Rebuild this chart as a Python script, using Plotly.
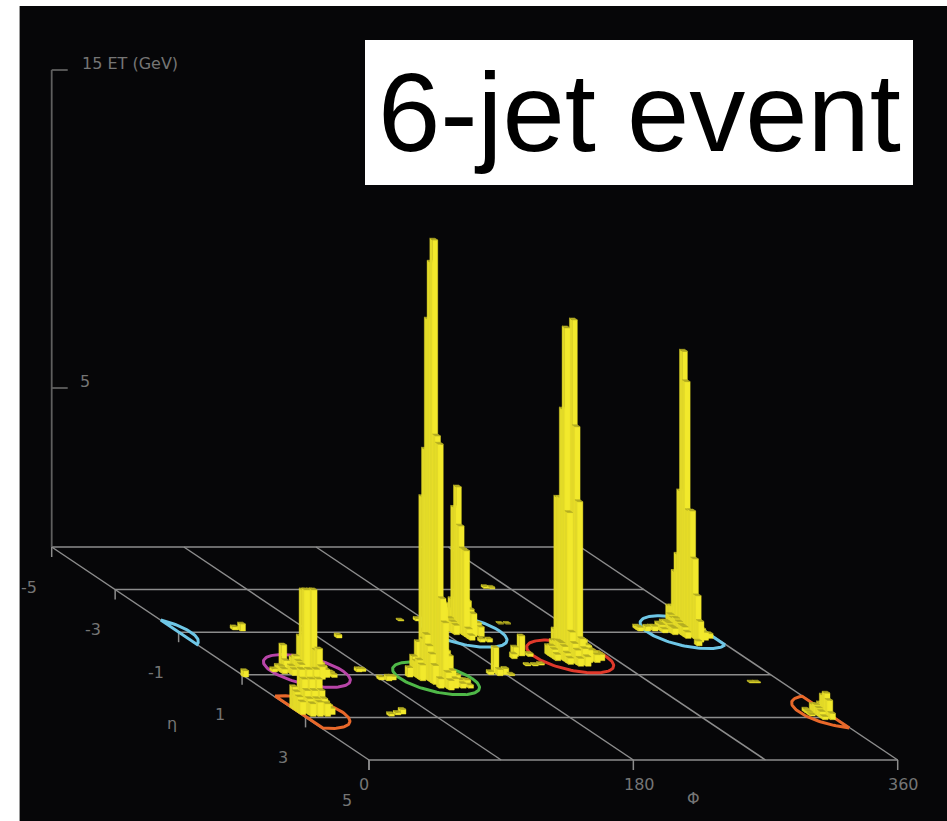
import numpy as np
import plotly.graph_objects as go

# ---- axes of the lego plot
PHI_GRID = [0, 90, 180, 270, 360]
ETA_GRID = [-5, -3, -1, 1, 3, 5]
ET_TICKS = [5, 15]
ET_AXIS_TOP = 15
PHI_LABELS = ["0", "180", "360"]
PHI_LABEL_VALUES = [0, 180, 360]
PHI_LABEL_SHIFT = [-5, 6, 6]
ETA_LABELS = ["-5", "-3", "-1", "1", "3", "5"]
ET_LABELS = ["5", "15 ET (GeV)"]
TITLE = "6-jet event"

# ---- jet cones (centre phi, centre eta, colour)
JET_PHI = [128.4, 195.3, 242.0, 343.8, 48.0, 6.0]
JET_ETA = [1.17, -1.06, 0.14, -1.0, 0.82, 2.75]
JET_COLOR = ["#4fb848", "#6ec6e6", "#e0392b", "#6ec6e6", "#b845a8", "#e8682a"]
CONE_PHI = 24.5
CONE_ETA = 0.77

# ---- calorimeter towers: bins relative to a reference tower of each jet
GREEN_REF = (127.3, 1.15)
GREEN_I = [0,0,0,0,0,0,0,1,1,1,0,0,1,-1,-1,-1,-1,-1,-1,-2,-2,-2,-2,-3,1,1,2,2,2,3,3,3,0,0,-1,1,2,3]
GREEN_J = [0,-1,-2,-3,-4,1,2,0,1,2,3,4,3,-3,-1,0,1,2,3,-2,-1,0,1,-1,-1,4,2,3,4,3,4,2,5,6,5,5,5,5]
GREEN_ET = [13.8,13.05,11.2,7.05,5.5,7.7,7.5,2.4,2.45,1.0,2.7,2.0,0.9,1.0,1.2,1.4,1.1,0.9,0.6,0.6,0.5,0.6,0.5,0.3,3.0,0.5,0.25,0.3,0.2,0.15,0.2,0.1,0.5,0.3,0.3,0.3,0.15,0.1]

BLUE_MID_REF = (192.0, -1.1)
BLUE_MID_I = [0,0,0,0,0,0,0,1,1,1,1,1,2,2,-1,-1,-1,0,0,1,2]
BLUE_MID_J = [0,-1,1,2,3,-2,-3,2,3,1,0,-1,2,3,0,1,2,4,5,6,6]
BLUE_MID_ET = [4.53,3.83,3.36,2.7,2.7,0.9,0.5,0.8,0.72,1.0,1.0,0.9,0.37,0.3,0.4,0.35,0.3,0.3,0.15,0.1,0.1]

RED_REF = (244.6, 0.12)
RED_I = [0,-1,-1,0,0,0,-1,-1,-1,-2,-1,1,1,1,1,1,2,2,2,2,3,3,0,0,-1,-1,-1,-1,-2,-2,-2,-2,-2,-2,-3,-3,-3,-3]
RED_J = [0,0,-1,1,2,3,-2,-3,-4,-2,1,-1,0,1,2,3,0,1,2,3,1,2,4,5,2,3,4,5,-1,0,1,2,3,4,-1,0,1,2]
RED_ET = [10.6,10.35,7.74,7.3,5.0,0.75,4.9,4.85,0.65,0.4,4.6,3.05,0.5,0.6,0.5,0.4,0.35,0.3,0.3,0.25,0.2,0.2,0.5,0.3,0.9,0.6,0.45,0.25,0.45,0.5,0.5,0.45,0.3,0.2,0.3,0.35,0.3,0.2]

BLUE_RIGHT_REF = (345.9, -1.1)
BLUE_RIGHT_I = [0,0,0,0,0,0,0,0,0,0,0,0,1,1,1,2,-1,-1,-1,-1,-1,-1,-1,-2,-2,-2,-2,-2,-3,-3,-3,-4,-4,-5,-6,-6,-1]
BLUE_RIGHT_J = [0,1,-1,2,3,-2,4,5,-3,-4,6,-5,3,4,5,4,-2,-1,0,1,2,3,4,-2,-1,0,1,2,-1,0,1,-1,0,0,-1,0,8]
BLUE_RIGHT_ET = [8.8,7.9,4.35,3.9,3.95,2.3,2.5,1.4,1.7,0.55,0.65,0.5,0.3,0.3,0.25,0.15,0.4,0.35,0.4,0.35,0.3,0.3,0.2,0.2,0.25,0.25,0.2,0.2,0.2,0.2,0.12,0.1,0.15,0.15,0.1,0.12,0.15]

MAGENTA_REF = (45.4, 0.82)
MAGENTA_I = [0,1,0,1,0,1,1,-2,-1,-2,-1,-1,-1,-2,-2,-3,-3,-3,-4,2,2,2,3,3,1,-1]
MAGENTA_J = [0,0,1,1,-1,2,3,-2,-1,-1,0,1,2,1,2,0,1,-1,0,1,2,3,2,3,4,3]
MAGENTA_ET = [2.58,2.58,2.64,2.64,1.07,0.8,0.9,0.73,0.4,0.3,0.5,0.4,0.35,0.25,0.2,0.18,0.15,0.15,0.1,0.35,0.3,0.25,0.12,0.1,0.4,0.2]

ORANGE_REF = (6.4, 2.56)
ORANGE_I = [0,1,2,0,1,2,0,1,2,0,1,2,0,1,2,-1,-1,-1,-1,3,3,3]
ORANGE_J = [0,0,0,1,1,1,2,2,2,3,3,3,4,4,4,0,1,2,3,1,2,3]
ORANGE_ET = [1.25,1.25,1.25,1.0,1.0,1.0,0.7,0.7,0.7,0.5,0.5,0.5,0.4,0.45,0.4,0.7,0.6,0.5,0.4,0.3,0.25,0.2]

ORANGE_WRAP_REF = (356.8, 2.89)
ORANGE_WRAP_I = [0,0,0,-1,-1,-1,-1,-1,-2,-2,-2,0,0]
ORANGE_WRAP_J = [0,-1,1,0,1,2,-1,-2,-1,-2,0,2,-2]
ORANGE_WRAP_ET = [0.72,0.6,0.55,0.25,0.2,0.1,0.3,0.25,0.08,0.1,0.05,0.2,0.3]

# ---- isolated deposits (absolute)
ISO_PHI = [45,41,103.6,0.5,82.8,86,94.2,90,98,65.7,70,60,163,174.6,257.7,254,232.9,228,210,205,202,215,203.9,209,214,175,170,180,175,183,339.2,343]
ISO_ETA = [-1.1,-1.15,-0.77,1.06,0.82,0.8,1.24,1.2,1.2,2.84,2.8,2.9,-1.57,-1.57,-3.08,-3.1,-1.43,-1.43,0.07,0.1,0.2,0.1,0.54,0.54,0.5,0.87,0.95,0.95,1.0,1.0,1.34,1.34]
ISO_ET = [0.22,0.1,0.1,0.2,0.1,0.08,0.15,0.1,0.12,0.08,0.15,0.08,0.03,0.08,0.05,0.06,0.02,0.02,0.63,0.3,0.15,0.1,0.05,0.05,0.05,0.8,0.1,0.2,0.2,0.05,0.03,0.03]

PHI_BIN = 5.0
ETA_BIN = 0.087
PHI_WIDTH = 3.5

YELLOW, SIDE, TOP = "#f2e92c", "#e2d928", "#b4ad22"
BG, GRID, AXIS, LABEL = "#060608", "#8c8c8c", "#5e5e5e", "#757575"


def project(phi, eta, et=0.0):
    """Oblique projection of the lego plot on the picture."""
    sx = 51.7 + 1.4686 * np.asarray(phi, float) + 31.73 * (np.asarray(eta, float) + 5)
    sy = 547.0 + 21.3 * (np.asarray(eta, float) + 5) - 31.8 * np.asarray(et, float)
    return sx, sy


towers = []
for ref, ii, jj, ee in [
    (GREEN_REF, GREEN_I, GREEN_J, GREEN_ET),
    (BLUE_MID_REF, BLUE_MID_I, BLUE_MID_J, BLUE_MID_ET),
    (RED_REF, RED_I, RED_J, RED_ET),
    (BLUE_RIGHT_REF, BLUE_RIGHT_I, BLUE_RIGHT_J, BLUE_RIGHT_ET),
    (MAGENTA_REF, MAGENTA_I, MAGENTA_J, MAGENTA_ET),
    (ORANGE_REF, ORANGE_I, ORANGE_J, ORANGE_ET),
    (ORANGE_WRAP_REF, ORANGE_WRAP_I, ORANGE_WRAP_J, ORANGE_WRAP_ET),
]:
    for i, j, e in zip(ii, jj, ee):
        towers.append((ref[0] + PHI_BIN * i, ref[1] + ETA_BIN * j, e))
towers += list(zip(ISO_PHI, ISO_ETA, ISO_ET))
towers.sort(key=lambda t: (round(t[1], 3), -t[0]))

fig = go.Figure()


def line(xs, ys, color, width):
    fig.add_trace(go.Scatter(x=xs, y=ys, mode="lines", line=dict(color=color, width=width),
                             hoverinfo="skip", showlegend=False))


def poly(pts, fill, edge, width):
    xs = [p[0] for p in pts] + [pts[0][0]]
    ys = [p[1] for p in pts] + [pts[0][1]]
    fig.add_trace(go.Scatter(x=xs, y=ys, mode="lines", fill="toself", fillcolor=fill,
                             line=dict(color=edge, width=width), hoverinfo="skip", showlegend=False))


# floor grid
for e in ETA_GRID:
    sx, sy = project([0, 360], [e, e])
    line(sx, sy, GRID, 1.5)
for p in PHI_GRID:
    sx, sy = project([p, p], [-5, 5])
    line(sx, sy, GRID, 1.5)
# ticks under the axes
for e in ETA_GRID:
    sx, sy = project(0, e)
    line([sx, sx], [sy, sy + 10], GRID, 1.5)
for p in PHI_LABEL_VALUES:
    sx, sy = project(p, 5)
    line([sx, sx], [sy, sy + 10], GRID, 1.5)
# ET axis
sx0, sy0 = project(0, -5, 0)
_, sy_top = project(0, -5, ET_AXIS_TOP)
line([sx0, sx0], [sy0, sy_top], AXIS, 1.8)
for t in ET_TICKS:
    _, sy = project(0, -5, t)
    line([sx0, sx0 + 16], [sy, sy], AXIS, 1.8)

# jet cones, wrapped around phi; a piece cut by the phi edge is closed along that edge
theta = np.radians(np.arange(0, 360, 3))
for p0, e0, c in zip(JET_PHI, JET_ETA, JET_COLOR):
    ph = p0 + CONE_PHI * np.cos(theta)
    et = e0 + CONE_ETA * np.sin(theta)
    for shift in (-360, 0, 360):
        inside = (ph + shift >= 0) & (ph + shift <= 360)
        if not inside.any():
            continue
        if inside.all():
            order = np.arange(len(ph))
        else:
            k = int(np.nonzero(~inside & np.roll(inside, -1))[0][0]) + 1
            order = np.roll(np.arange(len(ph)), -k)
            order = order[inside[order]]
        order = np.append(order, order[0])
        u, v = project(ph[order] + shift, et[order])
        line(u, v, c, 3)

# towers, far to near
hp, he = PHI_WIDTH / 2, ETA_BIN / 2
for p, e, h in towers:
    corners = {}
    for name, dp, de in [("bl", -hp, -he), ("br", hp, -he), ("fl", -hp, he), ("fr", hp, he)]:
        corners[name + "0"] = tuple(float(v) for v in project(p + dp, e + de, 0))
        corners[name + "1"] = tuple(float(v) for v in project(p + dp, e + de, h))
    poly([corners["bl0"], corners["fl0"], corners["fl1"], corners["bl1"]], SIDE, SIDE, 0.4)
    poly([corners["fl0"], corners["fr0"], corners["fr1"], corners["fl1"]], YELLOW, YELLOW, 0.4)
    poly([corners["bl1"], corners["br1"], corners["fr1"], corners["fl1"]], TOP, TOP, 0.6)

# text
ann = []


def label(x, y, text, size=16, color=LABEL):
    ann.append(dict(x=float(x), y=float(y), text=text, showarrow=False, xanchor="center", yanchor="middle",
                    font=dict(family="DejaVu Sans", size=size, color=color)))


for e, t in zip(ETA_GRID, ETA_LABELS):
    sx, sy = project(0, e)
    label(sx - 22.5, sy + 40, t)
for p, t, d in zip(PHI_LABEL_VALUES, PHI_LABELS, PHI_LABEL_SHIFT):
    sx, sy = project(p, 5)
    label(sx + d, sy + 24, t)
_, y5 = project(0, -5, ET_TICKS[0])
label(sx0 + 33, y5 - 7, ET_LABELS[0])
_, y15 = project(0, -5, ET_TICKS[1])
label(sx0 + 78, y15 - 7, ET_LABELS[1])
label(171.5, 723, "η")
label(693, 798, "Φ")
ann.append(dict(x=639, y=112, text=TITLE, showarrow=False, xanchor="center", yanchor="middle",
                font=dict(family="Liberation Sans", size=112, color="#000000")))

fig.update_layout(
    width=947, height=821, autosize=False,
    margin=dict(l=20, r=0, t=6, b=0),
    paper_bgcolor="#ffffff", plot_bgcolor=BG,
    xaxis=dict(range=[20, 947], visible=False, fixedrange=True),
    yaxis=dict(range=[821, 6], showgrid=False, zeroline=False, showticklabels=False, ticks="",
               showline=True, linecolor="#9a9a9a", linewidth=1, fixedrange=True),
    shapes=[dict(type="rect", xref="x", yref="y", x0=365, x1=913, y0=40, y1=185,
                 fillcolor="#ffffff", line=dict(width=0), layer="above")],
    annotations=ann,
    showlegend=False,
)
fig.write_html("out.html", config=dict(displayModeBar=False),
               post_script="document.body.style.margin='0';document.documentElement.style.overflow='hidden';")
